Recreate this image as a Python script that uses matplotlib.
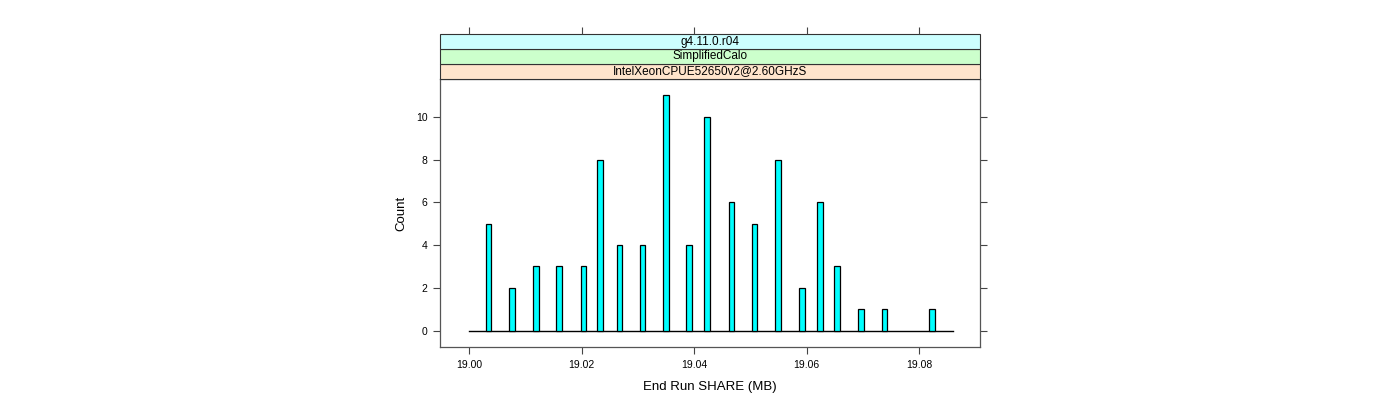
import numpy as np
import matplotlib.pyplot as plt
from matplotlib.patches import Rectangle

plt.rcParams['font.family'] = ['Liberation Sans', 'DejaVu Sans']

share_mb = [19.0034, 19.0076, 19.0119, 19.0160, 19.0203, 19.0233, 19.0267,
            19.0308, 19.0350, 19.0391, 19.0423, 19.0466, 19.0507, 19.0549,
            19.0592, 19.0624, 19.0654, 19.0697, 19.0738, 19.0823]
contagem = [5, 2, 3, 3, 3, 8, 4, 4, 11, 4, 10, 6, 5, 8, 2, 6, 3, 1, 1, 1]
faixa_base = [19.000, 19.086]
xticks = [19.00, 19.02, 19.04, 19.06, 19.08]
yticks = [0, 2, 4, 6, 8, 10]
strips = ['IntelXeonCPUE52650v2@2.60GHzS', 'SimplifiedCalo', 'g4.11.0.r04']
strip_cores = ['#ffe5cc', '#ccffcc', '#ccffff']

fig = plt.figure(figsize=(14, 4), dpi=100)
ax = fig.add_axes([440 / 1400, 53 / 400, 540 / 1400, 268 / 400])

ax.bar(share_mb, contagem, width=0.001, color='#00ffff', edgecolor='black', linewidth=0.9, zorder=3)
ax.plot(faixa_base, [0, 0], color='black', linewidth=1, zorder=2)

ax.set_xlim(18.9948, 19.0908)
ax.set_ylim(-0.77, 11.77)
ax.set_xticks(xticks)
ax.set_xticklabels([f'{v:.2f}' for v in xticks])
ax.set_yticks(yticks)
ax.tick_params(direction='out', length=5, width=0.8, color='#444444', labelsize=7.5,
               right=True, pad=4)
for s in ax.spines.values():
    s.set_color('#555555')
    s.set_linewidth(0.9)
ax.set_xlabel('End Run SHARE (MB)', fontsize=9.5, labelpad=8)
ax.set_ylabel('Count', fontsize=9.5, labelpad=6)

# faixas do lattice
axs = fig.add_axes([440 / 1400, 321 / 400, 540 / 1400, 45 / 400], sharex=ax)
axs.set_ylim(0, 3)
for i, (txt, cor) in enumerate(zip(strips, strip_cores)):
    axs.add_patch(Rectangle((0, i), 1, 1, transform=axs.get_yaxis_transform(),
                            facecolor=cor, edgecolor='#333333', linewidth=0.8, clip_on=False))
    axs.text(0.5, i + 0.5, txt, transform=axs.get_yaxis_transform(),
             ha='center', va='center', fontsize=8.5)
axs.set_yticks([])
axs.tick_params(axis='x', which='both', top=True, bottom=False, labeltop=False,
                labelbottom=False, direction='out', length=5, width=0.8, color='#444444')
for s in axs.spines.values():
    s.set_visible(False)

fig.savefig('out.png', dpi=100)
